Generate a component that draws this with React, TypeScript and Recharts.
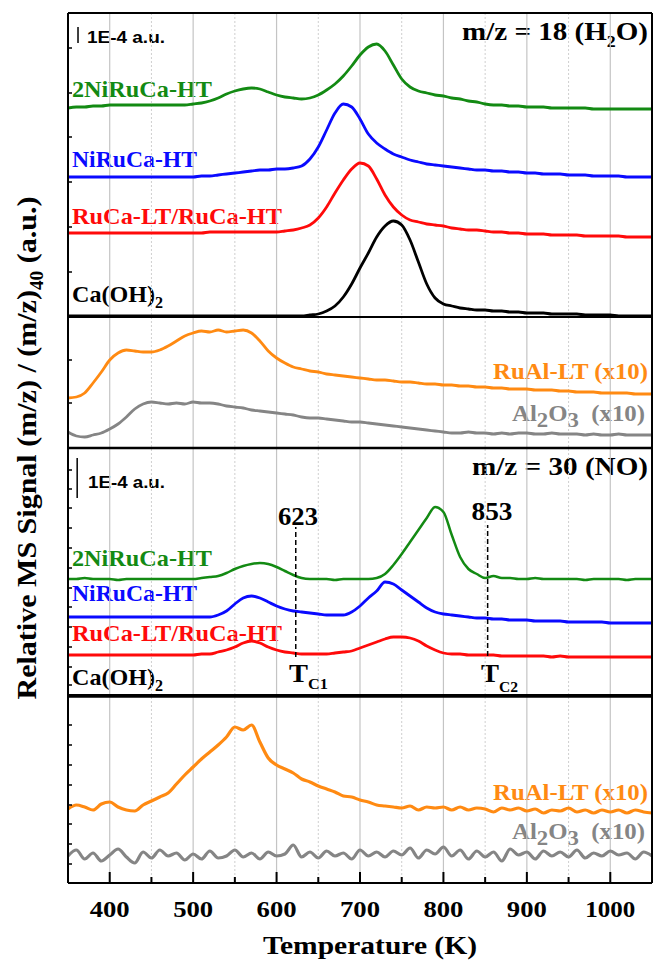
import React from 'react';
import { LineChart, Line, XAxis, YAxis, ReferenceLine } from 'recharts';

// temperature grid (K)
const TEMPS = [
  350, 360, 370, 380, 390, 400, 410, 420, 430, 440,
  450, 460, 470, 480, 490, 500, 510, 520, 530, 540,
  550, 560, 570, 580, 590, 600, 610, 620, 630, 640,
  650, 660, 670, 680, 690, 700, 710, 720, 730, 740,
  750, 760, 770, 780, 790, 800, 810, 820, 830, 840,
  850, 860, 870, 880, 890, 900, 910, 920, 930, 940,
  950, 960, 970, 980, 990, 1000, 1010, 1020, 1030, 1040,
  1050,
];

// m/z = 18 (H2O), stacked signals (a.u., offset for display)
const H2O_2NIRUCA = [
  775, 776, 776, 777, 777, 778, 778, 778, 778, 778,
  778, 778, 778, 778, 778, 779, 780, 782, 785, 789,
  792, 794, 795, 794, 791, 788, 786, 785, 784, 785,
  788, 793, 799, 807, 817, 828, 836, 839, 832, 818,
  804, 796, 792, 790, 788, 787, 785, 784, 782, 781,
  779, 778, 778, 777, 777, 776, 776, 776, 775, 775,
  775, 775, 775, 774, 774, 774, 774, 774, 774, 774,
  774,
];
const H2O_NIRUCA = [
  706, 706, 706, 706, 706, 706, 706, 706, 706, 706,
  706, 706, 706, 706, 706, 706, 707, 707, 708, 709,
  710, 711, 712, 713, 713, 714, 714, 715, 717, 724,
  736, 753, 770, 779, 776, 764, 749, 740, 734, 729,
  726, 723, 721, 719, 718, 717, 716, 715, 714, 713,
  713, 712, 712, 711, 711, 710, 710, 709, 709, 709,
  708, 708, 708, 707, 707, 707, 707, 706, 706, 706,
  706,
];
const H2O_RUCA = [
  650, 650, 650, 650, 650, 650, 650, 650, 650, 650,
  650, 650, 650, 650, 650, 650, 650, 651, 651, 651,
  651, 651, 651, 651, 651, 651, 652, 653, 655, 658,
  665, 676, 690, 703, 714, 720, 717, 704, 688, 676,
  668, 663, 661, 659, 658, 657, 655, 654, 653, 653,
  652, 651, 651, 650, 650, 649, 649, 649, 648, 648,
  648, 648, 647, 647, 647, 647, 647, 646, 646, 646,
  646,
];
const H2O_CAOH2 = [
  567, 567, 567, 567, 567, 567, 567, 567, 567, 567,
  567, 567, 567, 567, 567, 567, 567, 567, 567, 567,
  567, 567, 567, 567, 567, 567, 567, 567, 567, 568,
  569, 572, 577, 586, 599, 615, 630, 646, 657, 662,
  658, 643, 621, 599, 585, 579, 577, 575, 574, 573,
  573, 572, 572, 571, 571, 570, 570, 570, 569, 569,
  569, 569, 568, 568, 568, 568, 567, 567, 567, 567,
  567,
];
const H2O_RUAL = [
  485, 486, 490, 500, 511, 523, 530, 533, 532, 531,
  531, 533, 537, 542, 547, 550, 552, 551, 553, 551,
  552, 553, 550, 542, 532, 525, 520, 516, 514, 512,
  511, 509, 508, 507, 506, 505, 504, 503, 503, 502,
  501, 501, 500, 499, 499, 498, 498, 497, 497, 496,
  496, 495, 495, 494, 494, 494, 493, 493, 493, 492,
  492, 491, 491, 491, 490, 490, 490, 490, 489, 489,
  489,
];
const H2O_AL2O3 = [
  451, 447, 446, 448, 450, 454, 459, 466, 474, 479,
  481, 480, 479, 480, 479, 481, 480, 480, 479, 477,
  476, 475, 473, 472, 471, 470, 469, 468, 466, 465,
  465, 464, 463, 462, 461, 461, 460, 459, 458, 457,
  456, 455, 454, 453, 452, 451, 450, 450, 451, 450,
  450, 449, 450, 449, 450, 450, 449, 449, 450, 449,
  449, 449, 448, 449, 448, 448, 449, 448, 448, 448,
  448,
];

// m/z = 30 (NO)
const NO_2NIRUCA = [
  304, 304, 305, 304, 304, 304, 303, 304, 304, 304,
  304, 304, 304, 304, 304, 304, 305, 306, 307, 310,
  314, 317, 319, 320, 319, 316, 312, 308, 305, 304,
  304, 304, 303, 304, 304, 304, 304, 305, 309, 318,
  329, 341, 353, 365, 376, 371, 348, 326, 314, 309,
  305, 307, 305, 305, 304, 304, 305, 304, 304, 304,
  304, 304, 303, 304, 304, 304, 304, 303, 304, 304,
  304,
];
const NO_NIRUCA = [
  266, 266, 266, 266, 266, 266, 266, 266, 266, 266,
  266, 266, 266, 266, 266, 266, 266, 266, 268, 272,
  279, 285, 287, 285, 281, 277, 274, 272, 271, 270,
  269, 268, 268, 268, 271, 277, 285, 292, 301, 299,
  293, 287, 281, 275, 271, 269, 268, 267, 266, 265,
  265, 264, 264, 263, 263, 263, 262, 262, 262, 262,
  261, 261, 261, 261, 261, 260, 260, 260, 260, 260,
  260,
];
const NO_RUCA = [
  228, 228, 228, 228, 228, 228, 228, 228, 228, 228,
  228, 228, 228, 228, 228, 228, 229, 229, 231, 233,
  236, 240, 242, 240, 236, 233, 231, 230, 229, 229,
  229, 229, 230, 231, 232, 235, 238, 241, 244, 246,
  246, 245, 242, 237, 233, 230, 229, 229, 228, 228,
  228, 228, 227, 227, 227, 227, 227, 227, 226, 227,
  226, 226, 226, 226, 226, 226, 226, 226, 226, 226,
  226,
];
const NO_CAOH2 = [
  188, 188, 188, 188, 188, 188, 188, 188, 188, 188,
  188, 188, 188, 188, 188, 188, 188, 188, 188, 188,
  188, 188, 188, 188, 188, 188, 188, 188, 188, 188,
  188, 188, 188, 188, 188, 188, 188, 188, 188, 188,
  188, 188, 188, 188, 188, 188, 188, 188, 188, 188,
  188, 188, 188, 188, 188, 188, 188, 188, 188, 188,
  188, 188, 188, 188, 188, 188, 188, 188, 188, 188,
  188,
];
const NO_RUAL = [
  74, 78, 76, 73, 79, 81, 76, 73, 72, 78,
  82, 86, 90, 99, 108, 116, 124, 131, 138, 146,
  156, 153, 158, 141, 125, 118, 114, 110, 104, 101,
  97, 94, 91, 87, 86, 83, 81, 78, 77, 76,
  75, 77, 73, 76, 75, 76, 73, 76, 73, 75,
  74, 71, 75, 73, 75, 72, 74, 70, 73, 72,
  75, 71, 73, 70, 73, 71, 73, 70, 73, 71,
  70,
];
const NO_AL2O3 = [
  27, 33, 24, 30, 22, 28, 34, 26, 20, 31,
  25, 33, 27, 30, 23, 29, 24, 32, 25, 27,
  33, 26, 30, 24, 31, 27, 29, 38, 26, 31,
  25, 32, 27, 30, 24, 33, 27, 31, 26, 32,
  28, 35, 25, 33, 29, 36, 27, 33, 24, 32,
  26, 31, 22, 34, 28, 31, 24, 32, 27, 31,
  26, 33, 25, 30, 27, 32, 28, 30, 24, 31,
  27,
];

const X_TICKS = [400, 450, 500, 550, 600, 650, 700, 750, 800, 850, 900, 950, 1000];
const MAJOR_GRID = [400, 500, 600, 700, 800, 900, 1000];
const MINOR_GRID = [450, 550, 650, 750, 850, 950];
const Y_TICKS = [835, 790, 746, 701, 656, 611, 523, 480, 413, 394, 375, 355, 335, 315, 295, 276, 256, 236, 216, 198, 158, 138, 118, 98, 78, 59, 39, 19];

const SERIF = '"Liberation Serif", "Times New Roman", serif';
const SANS = '"Liberation Sans", Arial, sans-serif';
const GREEN = '#138a13';
const BLUE = '#0a0aff';
const RED = '#ff0a0a';
const BLACK = '#000000';
const ORANGE = '#ff8a12';
const GRAY = '#858585';

const PLOT_LEFT = 68;
const PLOT_BOTTOM = 883;

const data = TEMPS.map((T, i) => ({
  T,
  h2oGreen: H2O_2NIRUCA[i],
  h2oBlue: H2O_NIRUCA[i],
  h2oRed: H2O_RUCA[i],
  h2oBlack: H2O_CAOH2[i],
  h2oOrange: H2O_RUAL[i],
  h2oGray: H2O_AL2O3[i],
  noGreen: NO_2NIRUCA[i],
  noBlue: NO_NIRUCA[i],
  noRed: NO_RUCA[i],
  noBlack: NO_CAOH2[i],
  noOrange: NO_RUAL[i],
  noGray: NO_AL2O3[i],
}));

const SERIES = [
  { key: 'h2oGreen', color: GREEN, w: 2.8 },
  { key: 'h2oBlue', color: BLUE, w: 2.8 },
  { key: 'h2oRed', color: RED, w: 2.8 },
  { key: 'h2oBlack', color: BLACK, w: 2.8 },
  { key: 'h2oOrange', color: ORANGE, w: 2.8 },
  { key: 'h2oGray', color: GRAY, w: 2.8 },
  { key: 'noGreen', color: GREEN, w: 2.5 },
  { key: 'noBlue', color: BLUE, w: 2.8 },
  { key: 'noRed', color: RED, w: 2.8 },
  { key: 'noBlack', color: BLACK, w: 2.2 },
  { key: 'noOrange', color: ORANGE, w: 3.2 },
  { key: 'noGray', color: GRAY, w: 3.2 },
];

const XTick = (props: any) => {
  const { x, payload } = props;
  const major = payload.value % 100 === 0;
  return (
    <g>
      <line x1={x} x2={x} y1={PLOT_BOTTOM} y2={PLOT_BOTTOM - (major ? 11 : 6)} stroke="#000" strokeWidth={2} />
      {major && (
        <text x={x} y={917} textAnchor="middle" fontFamily={SERIF} fontWeight="bold" fontSize={24}
          textLength={payload.value >= 1000 ? 50 : 40} lengthAdjust="spacingAndGlyphs" fill="#000">
          {payload.value}
        </text>
      )}
    </g>
  );
};

const YTick = (props: any) => (
  <line x1={PLOT_LEFT} x2={PLOT_LEFT + 4} y1={props.y} y2={props.y} stroke="#000" strokeWidth={1.5} />
);

// bold serif text, stretched to the measured width
const T = ({ x, y, w, size = 24, fill = '#000', anchor = 'start', family = SERIF, children }: any) => (
  <text x={x} y={y} fontSize={size} fontFamily={family} fontWeight="bold" fill={fill}
    textAnchor={anchor} textLength={w} lengthAdjust="spacingAndGlyphs">
    {children}
  </text>
);

export default function App() {
  return (
    <div style={{ position: 'absolute', left: 0, top: 0, width: 653, height: 962, background: '#fff' }}>
      <LineChart width={653} height={962} data={data} margin={{ top: 13, right: 1, bottom: 29, left: 0 }}>
        {MAJOR_GRID.map(v => (
          <ReferenceLine key={`g${v}`} x={v} stroke="#c4c4c4" strokeWidth={1.2} />
        ))}
        {MINOR_GRID.map(v => (
          <ReferenceLine key={`m${v}`} x={v} stroke="#cfcfcf" strokeWidth={1} strokeDasharray="2 2" />
        ))}
        <XAxis dataKey="T" type="number" domain={[350, 1050]} ticks={X_TICKS} interval={0}
          allowDataOverflow height={50} tickLine={false} tick={<XTick />}
          axisLine={{ stroke: '#000', strokeWidth: 2 }} />
        <YAxis type="number" domain={[0, 870]} ticks={Y_TICKS} interval={0} allowDataOverflow width={68}
          tickLine={false} tick={<YTick />} axisLine={{ stroke: '#000', strokeWidth: 2 }} />

        {SERIES.map(s => (
          <Line key={s.key} dataKey={s.key} stroke={s.color} strokeWidth={s.w} type="monotone"
            dot={false} activeDot={false} isAnimationActive={false} />
        ))}

        {/* frame + panel separators */}
        <ReferenceLine y={870} stroke="#000" strokeWidth={2} />
        <ReferenceLine x={1050} stroke="#000" strokeWidth={2} />
        <ReferenceLine y={566} stroke="#000" strokeWidth={2} />
        <ReferenceLine y={435} stroke="#000" strokeWidth={2.5} />
        <ReferenceLine y={186.5} stroke="#000" strokeWidth={2.5} />

        {/* scale bars 1E-4 a.u. */}
        <ReferenceLine segment={[{ x: 362, y: 840 }, { x: 362, y: 856 }]} stroke="#000" strokeWidth={1.5} />
        <ReferenceLine segment={[{ x: 361, y: 385 }, { x: 361, y: 425 }]} stroke="#000" strokeWidth={1.5} />

        {/* crossover temperatures */}
        <ReferenceLine segment={[{ x: 623, y: 226 }, { x: 623, y: 356 }]} stroke="#000" strokeWidth={1.5} strokeDasharray="5 3" />
        <ReferenceLine segment={[{ x: 853, y: 227 }, { x: 853, y: 358 }]} stroke="#000" strokeWidth={1.5} strokeDasharray="5 3" />

        {/* top panel labels */}
        <T x={87} y={43} w={78} size={16} family={SANS}>1E-4 a.u.</T>
        <T x={648} y={40} w={186} size={26} anchor="end">m/z = 18 (H<tspan fontSize={16} dy={7}>2</tspan><tspan dy={-7}>O)</tspan></T>
        <T x={72} y={97} w={140} fill={GREEN}>2NiRuCa-HT</T>
        <T x={72} y={167} w={125} fill={BLUE}>NiRuCa-HT</T>
        <T x={72} y={224} w={210} fill={RED}>RuCa-LT/RuCa-HT</T>
        <T x={72} y={302} w={91}>Ca(OH)<tspan fontSize={16} dy={6}>2</tspan></T>
        <T x={648} y={379} w={155} fill={ORANGE} anchor="end">RuAl-LT (x10)</T>
        <T x={645} y={421} w={133} fill={GRAY} anchor="end">Al<tspan fontSize={22} dy={6}>2</tspan><tspan dy={-6}>O</tspan><tspan fontSize={22} dy={6}>3</tspan><tspan dy={-6}>{'\u00a0 (x10)'}</tspan></T>

        {/* bottom panel labels */}
        <T x={88} y={488} w={77} size={16} family={SANS}>1E-4 a.u.</T>
        <T x={648} y={475} w={176} size={26} anchor="end">m/z = 30 (NO)</T>
        <T x={298} y={525} w={40} size={26} anchor="middle">623</T>
        <T x={492} y={520} w={41} size={26} anchor="middle">853</T>
        <T x={289} y={682} w={39} size={26}>T<tspan fontSize={15} dy={7}>C1</tspan></T>
        <T x={481} y={682} w={37} size={26}>T<tspan fontSize={15} dy={10}>C2</tspan></T>
        <T x={72} y={566} w={140} fill={GREEN}>2NiRuCa-HT</T>
        <T x={72} y={601} w={125} fill={BLUE}>NiRuCa-HT</T>
        <T x={72} y={641} w={210} fill={RED}>RuCa-LT/RuCa-HT</T>
        <T x={72} y={685} w={91}>Ca(OH)<tspan fontSize={16} dy={6}>2</tspan></T>
        <T x={648} y={800} w={155} fill={ORANGE} anchor="end">RuAl-LT (x10)</T>
        <T x={645} y={839} w={133} fill={GRAY} anchor="end">Al<tspan fontSize={22} dy={6}>2</tspan><tspan dy={-6}>O</tspan><tspan fontSize={22} dy={6}>3</tspan><tspan dy={-6}>{'\u00a0 (x10)'}</tspan></T>

        {/* axis titles */}
        <text transform="translate(36,448) rotate(-90)" textAnchor="middle" fontFamily={SERIF} fontWeight="bold"
          fontSize={28} textLength={503} lengthAdjust="spacingAndGlyphs" fill="#000">
          Relative MS Signal (m/z) / (m/z)<tspan fontSize={18} dy={7}>40</tspan><tspan dy={-7}> (a.u.)</tspan>
        </text>
        <T x={370} y={954} w={214} size={26} anchor="middle">Temperature (K)</T>
      </LineChart>
    </div>
  );
}
